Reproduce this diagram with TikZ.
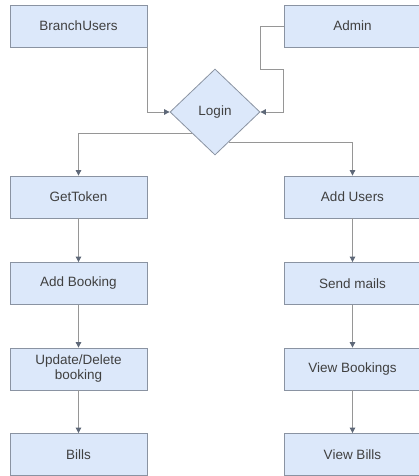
\documentclass[tikz,border=0pt]{standalone}
\usepackage{fontspec}
\setmainfont{Liberation Sans}
\usetikzlibrary{shapes.geometric,arrows.meta}
\definecolor{boxfill}{HTML}{DCE8FA}
\definecolor{boxline}{HTML}{8A93A2}
\definecolor{boxtext}{HTML}{404040}
\definecolor{linegray}{HTML}{969696}
\definecolor{tipcolor}{HTML}{5E6878}

\begin{document}
\begin{tikzpicture}[x=1pt, y=1pt]
\tikzstyle{basic}=[draw=boxline, fill=boxfill, text=boxtext, line width=0.8pt, font=\fontsize{13.5}{15}\selectfont]
\tikzstyle{action}=[basic, minimum width=137pt, minimum height=42pt, inner sep=0pt, align=center]
\tikzstyle{decision}=[basic, diamond, minimum width=90pt, minimum height=86pt, inner sep=0pt]
\tikzstyle{edgestyle}=[draw=linegray, line width=0.9pt, -{Triangle[length=5.5pt,width=5.5pt,color=tipcolor]}]
\useasboundingbox (0,0) rectangle (419,476);

\node[action] (bu) at (78.5,450) {BranchUsers};
\node[action] (admin) at (352.5,450) {Admin};
\node[decision] (login) at (215,364) {Login};

% left column
\node[action] (tok) at (78.5,279) {GetToken};
\node[action] (addb) at (78.5,192.5) {Add Booking};
\node[action] (upd) at (78.5,107) {Update/Delete\\booking};
\node[action] (bills) at (78.5,21.5) {Bills};

% right column
\node[action] (addu) at (352.5,279) {Add Users};
\node[action] (mail) at (352.5,192.5) {Send mails};
\node[action] (vbook) at (352.5,107) {View Bookings};
\node[action] (vbill) at (352.5,21.5) {View Bills};

\draw[edgestyle] (bu.south east) |- (login.west);
\draw[edgestyle] (admin.west) -- ++(-23,0) |- ([yshift=-43pt]admin.west) |- (login.east);
\draw[edgestyle] (login.south west) -| (tok.north);
\draw[edgestyle] (login.295) -| (addu.north);

\draw[edgestyle] (tok) -- (addb);
\draw[edgestyle] (addb) -- (upd);
\draw[edgestyle] (upd) -- (bills);
\draw[edgestyle] (addu) -- (mail);
\draw[edgestyle] (mail) -- (vbook);
\draw[edgestyle] (vbook) -- (vbill);
\end{tikzpicture}
\end{document}
